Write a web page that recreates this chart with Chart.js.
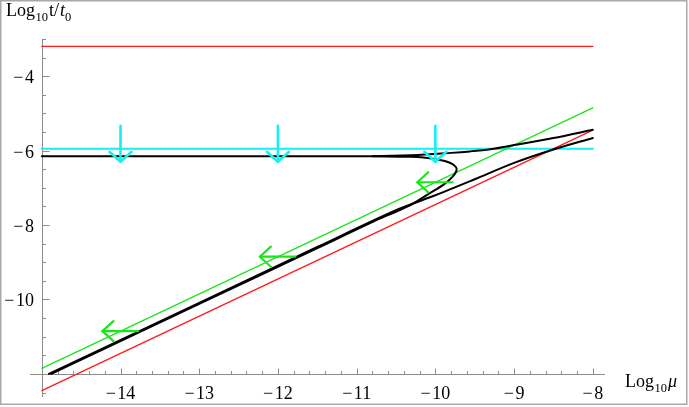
<!DOCTYPE html>
<html>
<head>
<meta charset="utf-8">
<script src="https://cdn.jsdelivr.net/npm/chart.js@4/dist/chart.umd.min.js"></script>
<style>
  html, body { margin: 0; padding: 0; background: #fff; }
  canvas { display: block; }
</style>
</head>
<body>
<canvas id="c" width="689" height="407"></canvas>
<script>
// 刻度标签
const xTickLabels = [-14, -13, -12, -11, -10, -9, -8];
const yTickLabels = [-10, -8, -6, -4];

// 直线：两端点
const lineX = [-15, -8];
const redFlatY = [-3.2, -3.2];
const cyanFlatY = [-5.95, -5.95];
const greenDiagY = [-11.85, -4.85];
const redDiagY = [-12.45, -5.45];

// 黑色曲线（三支）
const branchAX = [-15, -10.8, -10.3, -9.8, -9.56, -9.3, -9.0, -8.5, -8.0];
const branchAY = [-6.15, -6.148, -6.125, -6.06, -6.02, -5.96, -5.85, -5.66, -5.44];
const branchBX = [-14.88, -13.0, -11.5, -10.7, -10.35, -10.07, -9.9, -9.78, -9.73, -9.77, -9.88, -10.05, -10.3, -10.8];
const branchBY = [-12.0, -10.12, -8.62, -7.82, -7.5, -7.14, -6.92, -6.70, -6.51, -6.38, -6.28, -6.21, -6.165, -6.152];
const branchCX = [-14.91, -13.0, -11.5, -10.5, -10.0, -9.5, -9.0, -8.5, -8.0];
const branchCY = [-12.0, -10.09, -8.59, -7.6, -7.2, -6.77, -6.33, -5.97, -5.66];

// 箭头
const cyanArrowX = [-14, -12, -10];
const cyanArrowTail = -5.33;
const cyanArrowTip = -6.3;
const greenArrowX = [-14, -12, -10];
const greenArrowY = [-10.85, -8.85, -6.85];

const RED = '#ff1a1a';
const GREEN = '#19e619';
const CYAN = '#14f0f0';
const SERIF = '"Liberation Serif", "DejaVu Serif", serif';

function seg(xs, ys, color, width, tension) {
  return {
    data: xs.map((x, i) => ({ x: x, y: ys[i] })),
    borderColor: color,
    borderWidth: width,
    showLine: true,
    pointRadius: 0,
    fill: false,
    tension: tension || 0,
    borderCapStyle: 'round',
    borderJoinStyle: 'round',
  };
}

// 由下到上排列，最后反转（Chart.js 先画后面的数据集）
const layers = [];
layers.push(seg(lineX, redFlatY, RED, 1.3));
layers.push(seg(lineX, cyanFlatY, CYAN, 2));
layers.push(seg(lineX, greenDiagY, GREEN, 1.3));
layers.push(seg(lineX, redDiagY, RED, 1.3));
layers.push(seg(branchAX, branchAY, '#000', 2, 0.3));
layers.push(seg(branchBX, branchBY, '#000', 2, 0.3));
layers.push(seg(branchCX, branchCY, '#000', 2, 0.3));

cyanArrowX.forEach(x => {
  layers.push(seg([x, x], [cyanArrowTail, cyanArrowTip], CYAN, 2.6));
  layers.push(seg([x - 0.14, x, x + 0.14], [cyanArrowTip + 0.27, cyanArrowTip, cyanArrowTip + 0.27], CYAN, 2.6));
});
greenArrowX.forEach((x, i) => {
  const y = greenArrowY[i];
  layers.push(seg([x + 0.22, x - 0.23], [y, y], GREEN, 2.2));
  layers.push(seg([x - 0.09, x - 0.23, x - 0.09], [y + 0.27, y, y - 0.27], GREEN, 2.2));
});

// 依次排字（带下标）
function drawRich(ctx, x, y, pieces) {
  ctx.textAlign = 'left';
  ctx.textBaseline = 'alphabetic';
  pieces.forEach(p => {
    ctx.font = (p.italic ? 'italic ' : '') + p.size + 'px ' + SERIF;
    x += p.pre || 0;
    ctx.fillText(p.t, x, y + (p.dy || 0));
    x += ctx.measureText(p.t).width;
  });
}

const mmaAxes = {
  id: 'mmaAxes',
  beforeDatasetsDraw(chart) {
    const { ctx, chartArea: a } = chart;
    const xs = chart.scales.x, ys = chart.scales.y;
    const x0 = Math.round(xs.getPixelForValue(-15)) + 0.5;
    const y0 = Math.round(ys.getPixelForValue(-12)) + 0.5;
    ctx.save();
    ctx.strokeStyle = '#8c8c8c';
    ctx.lineWidth = 1;
    ctx.beginPath();
    ctx.moveTo(a.left, y0); ctx.lineTo(a.right, y0);
    ctx.moveTo(x0, a.top); ctx.lineTo(x0, a.bottom);
    // x 轴刻度（向上）
    for (let i = -74; i <= -40; i++) {
      const px = Math.round(xs.getPixelForValue(i / 5)) + 0.5;
      const len = i % 5 === 0 ? 6 : 3.5;
      ctx.moveTo(px, y0); ctx.lineTo(px, y0 - len);
    }
    // y 轴刻度（向右）
    for (let i = -25; i <= -6; i++) {
      if (i === -24) continue;
      const py = Math.round(ys.getPixelForValue(i / 2)) + 0.5;
      const len = i % 4 === 0 ? 7 : 3.5;
      ctx.moveTo(x0, py); ctx.lineTo(x0 + len, py);
    }
    ctx.stroke();

    ctx.fillStyle = '#000';
    ctx.font = '18px ' + SERIF;
    ctx.textBaseline = 'alphabetic';
    ctx.textAlign = 'center';
    xTickLabels.forEach(v => {
      ctx.fillText('\u2212\u200a' + Math.abs(v), xs.getPixelForValue(v), 399);
    });
    ctx.textAlign = 'right';
    yTickLabels.forEach(v => {
      ctx.fillText('\u2212\u200a' + Math.abs(v), 34, ys.getPixelForValue(v) + 7);
    });

    drawRich(ctx, 6, 16, [
      { t: 'Log', size: 18 },
      { t: '10', size: 12.5, dy: 5, pre: 0.5 },
      { t: 't/', size: 18, pre: 1 },
      { t: 't', size: 18, italic: true, pre: 1 },
      { t: '0', size: 12.5, dy: 5 },
    ]);
    drawRich(ctx, 625, 387, [
      { t: 'Log', size: 18 },
      { t: '10', size: 12.5, dy: 5, pre: 0.5 },
      { t: '\u03bc', size: 18, italic: true, pre: 1 },
    ]);
    ctx.restore();
  },
  afterDraw(chart) {
    const ctx = chart.ctx;
    ctx.save();
    ctx.strokeStyle = '#a8a8a8';
    ctx.lineWidth = 1.5;
    ctx.strokeRect(0.75, 0.75, 686, 403.5);
    ctx.restore();
  }
};

new Chart(document.getElementById('c'), {
  type: 'scatter',
  data: { datasets: layers.reverse() },
  options: {
    responsive: false,
    animation: false,
    layout: { padding: { left: 30, right: 84, top: 39, bottom: 10 } },
    plugins: { legend: { display: false }, tooltip: { enabled: false } },
    scales: {
      x: { type: 'linear', min: -15.15, max: -7.845, display: false },
      y: { type: 'linear', min: -12.62, max: -3, display: false },
    },
  },
  plugins: [mmaAxes],
});
</script>
</body>
</html>
